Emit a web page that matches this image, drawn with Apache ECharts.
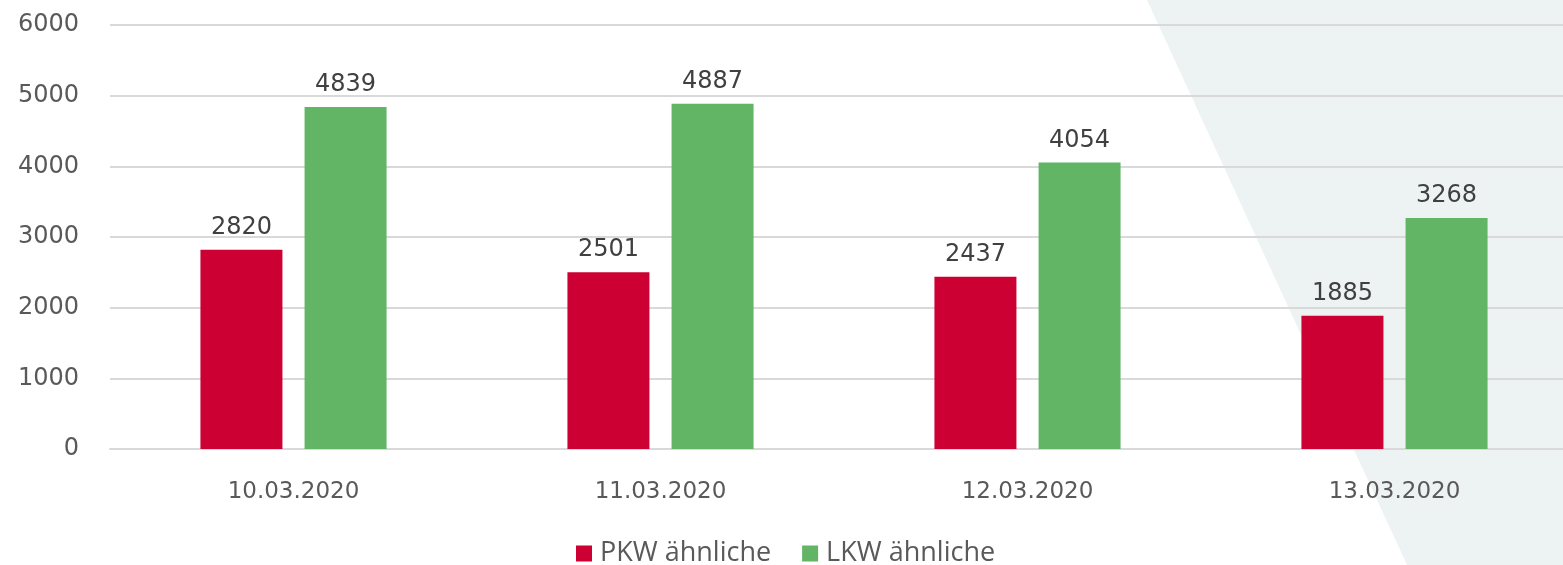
<!DOCTYPE html>
<html>
<head>
<meta charset="utf-8">
<script src="https://cdn.jsdelivr.net/npm/echarts@6/dist/echarts.min.js"></script>
<style>
  html, body { margin: 0; padding: 0; background: #fff; }
  #chart { width: 1563px; height: 565px; }
</style>
</head>
<body>
<div id="chart"></div>
<script>
// daten
const days = ['10.03.2020', '11.03.2020', '12.03.2020', '13.03.2020']
const pkw = [2820, 2501, 2437, 1885]
const lkw = [4839, 4887, 4054, 3268]
const yTicks = [0, 1000, 2000, 3000, 4000, 5000, 6000]

const myChart = echarts.init(document.getElementById('chart'))

const labelStyle = {
  show: true,
  position: 'top',
  distance: 10,
  color: '#404040',
  fontSize: 24,
  fontFamily: 'DejaVu Sans'
}

const option = {
  animation: false,
  // hellgrauer Hintergrund rechts
  graphic: [{
    type: 'polygon',
    z: -10,
    silent: true,
    shape: { points: [[1147, 0], [1563, 0], [1563, 565], [1407, 565]] },
    style: { fill: '#edf3f3' }
  }],
  grid: { left: 110, width: 1468, top: 25, height: 424, outerBoundsMode: 'none' },
  legend: {
    top: 535,
    left: 571,
    itemWidth: 16,
    itemHeight: 16,
    itemGap: 31,
    icon: 'rect',
    textStyle: { color: '#595959', fontSize: 27, fontFamily: 'Open Sans', padding: [0, 0, 0, 3] },
    data: ['PKW ähnliche', 'LKW ähnliche']
  },
  xAxis: {
    type: 'category',
    data: days,
    axisLine: { lineStyle: { color: '#d9d9d9', width: 2 } },
    axisTick: { show: false },
    axisLabel: { color: '#595959', fontSize: 23, margin: 32, fontFamily: 'DejaVu Sans' }
  },
  yAxis: {
    type: 'value',
    min: yTicks[0],
    max: yTicks[yTicks.length - 1],
    interval: 1000,
    axisLine: { show: false },
    axisTick: { show: false },
    axisLabel: {
      color: '#595959', fontSize: 24, margin: 31, fontFamily: 'DejaVu Sans',
      formatter: (v) => String(v)
    },
    splitLine: { lineStyle: { color: '#d9d9d9', width: 2 } }
  },
  series: [
    {
      name: 'PKW ähnliche',
      type: 'bar',
      data: pkw,
      barWidth: 82,
      barGap: '27%',
      itemStyle: { color: '#cc0033' },
      label: labelStyle
    },
    {
      name: 'LKW ähnliche',
      type: 'bar',
      data: lkw,
      barWidth: 82,
      itemStyle: { color: '#61b565' },
      label: labelStyle
    }
  ]
}

option && myChart.setOption(option)
</script>
</body>
</html>
